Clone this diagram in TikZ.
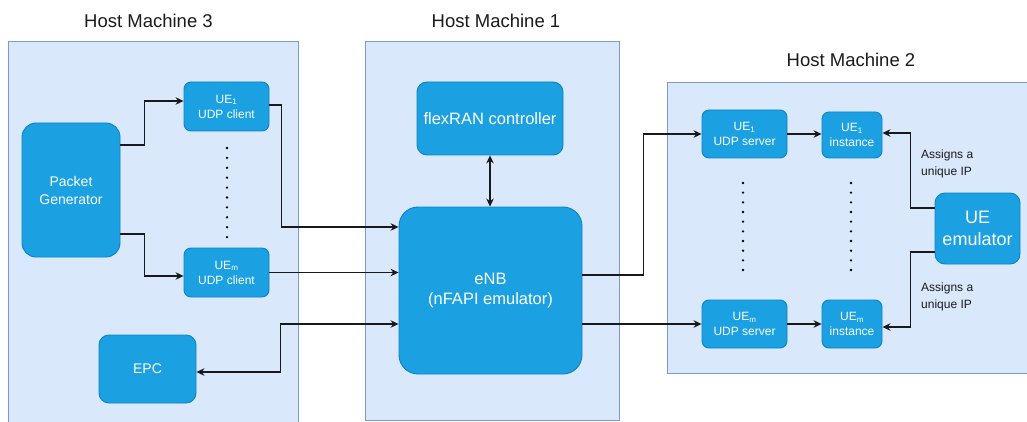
\documentclass[tikz,border=0pt]{standalone}
\usepackage{fontspec}
\setmainfont{Liberation Sans}
\usetikzlibrary{arrows.meta}
\definecolor{hostfill}{HTML}{DAE8FC}
\definecolor{hostline}{HTML}{7B9CCB}
\definecolor{boxfill}{HTML}{1BA1E2}
\definecolor{boxline}{HTML}{0B82C4}
\definecolor{ink}{HTML}{1A1A1A}

\begin{document}
\begin{tikzpicture}[x=1pt,y=-1pt,
  host/.style={draw=hostline, fill=hostfill, line width=0.9pt},
  title/.style={text=ink, font=\fontsize{18.5}{22}\selectfont},
  box/.style={draw=boxline, fill=boxfill, text=white, align=center,
    inner sep=0pt, line width=0.9pt, rounded corners=#1,
    font=\fontsize{12}{15}\selectfont},
  box/.default=7pt,
  bigtext/.style={font=\fontsize{16.5}{20}\selectfont},
  note/.style={text=ink, align=left, anchor=west, inner sep=0pt,
    font=\fontsize{12}{17}\selectfont},
  conn/.style={draw=black!90, line width=1.1pt},
  arr/.style={conn, -{Stealth[length=8pt,width=7.5pt]}},
  biarr/.style={conn, {Stealth[length=8pt,width=7.5pt]}-{Stealth[length=8pt,width=7.5pt]}},
  dot/.style={fill=black}
]
\useasboundingbox (0,0) rectangle (1027,422);

% host machines
\draw[host] (8,41) rectangle (298,432);
\draw[host] (365,41) rectangle (619,420);
\draw[host] (667,82) rectangle (1040,373);

\node[title] (t3) at (148.5,21) {Host Machine 3};
\node[title] (t1) at (496,21) {Host Machine 1};
\node[title] (t2) at (851,60) {Host Machine 2};

% Host Machine 3
\node[box=14pt, minimum width=98pt, minimum height=134pt,
      font=\fontsize{14}{18}\selectfont] (pg) at (71,190) {Packet\\Generator};
\node[box, minimum width=85pt, minimum height=49pt] (ue1c) at (226.5,106.5)
  {UE\textsubscript{1}\\UDP client};
\node[box, minimum width=85pt, minimum height=49pt] (uemc) at (226.5,272.5)
  {UE\textsubscript{m}\\UDP client};
\node[box=10pt, minimum width=97pt, minimum height=68pt,
      font=\fontsize{14}{18}\selectfont] (epc) at (147.5,369) {EPC};
\foreach \k in {0,...,9} \fill[dot] (227,148+9.9*\k) circle (1.3);

% Host Machine 1
\node[box=10pt, minimum width=146pt, minimum height=73pt, bigtext] (flex)
  at (490,118.5) {flexRAN controller};
\node[box=19pt, minimum width=183pt, minimum height=167pt, bigtext] (enb)
  at (490.5,290.5) {eNB\\(nFAPI emulator)};

% Host Machine 2
\node[box, minimum width=85pt, minimum height=48pt] (ue1s) at (744.5,134)
  {UE\textsubscript{1}\\UDP server};
\node[box, minimum width=85pt, minimum height=48pt] (uems) at (744.5,324)
  {UE\textsubscript{m}\\UDP server};
\node[box, minimum width=60pt, minimum height=46pt] (ue1i) at (852,135)
  {UE\textsubscript{1}\\instance};
\node[box, minimum width=60pt, minimum height=48pt] (uemi) at (852,324)
  {UE\textsubscript{m}\\instance};
\node[box=10pt, minimum width=85pt, minimum height=71pt,
      font=\fontsize{18}{22}\selectfont] (uee) at (977.5,228.5) {UE\\emulator};
\foreach \k in {0,...,9} {
  \fill[dot] (743,183+9.67*\k) circle (1.3);
  \fill[dot] (851,183+9.67*\k) circle (1.3);
}
\node[note] (n1) at (921,164) {Assigns a\\unique IP};
\node[note] (n2) at (921,297) {Assigns a\\unique IP};

% connectors
\draw[arr] ([yshift=45pt]pg.east) -- ++(24,0) |- ([yshift=5.5pt]ue1c.west);
\draw[arr] ([yshift=-44pt]pg.east) -- ++(24,0) |- ([yshift=-3.5pt]uemc.west);
\draw[arr] ([yshift=1.5pt]ue1c.east) -- ++(12,0) |- ([yshift=63.5pt]enb.west);
\draw[arr] (uemc.east) -- (uemc.east -| enb.west);
\draw[biarr] ([yshift=-33.5pt]enb.west) -- ++(-118,0) |- ([yshift=-3pt]epc.east);
\draw[biarr] (flex.south) -- (flex.south |- enb.north);
\draw[arr] ([yshift=15.5pt]enb.east) -- ++(61,0) |- (ue1s.west);
\draw[arr] ([yshift=-33.5pt]enb.east) -- (uems.west);
\draw[arr] (ue1s.east) -- (ue1s.east -| ue1i.west);
\draw[arr] (uems.east) -- (uems.east -| uemi.west);
\draw[arr] ([yshift=20.5pt]uee.west) -- ++(-24,0) |- ([yshift=2pt]ue1i.east);
\draw[arr] ([yshift=-23.5pt]uee.west) -- ++(-24,0) |- ([yshift=-3pt]uemi.east);
\end{tikzpicture}
\end{document}
